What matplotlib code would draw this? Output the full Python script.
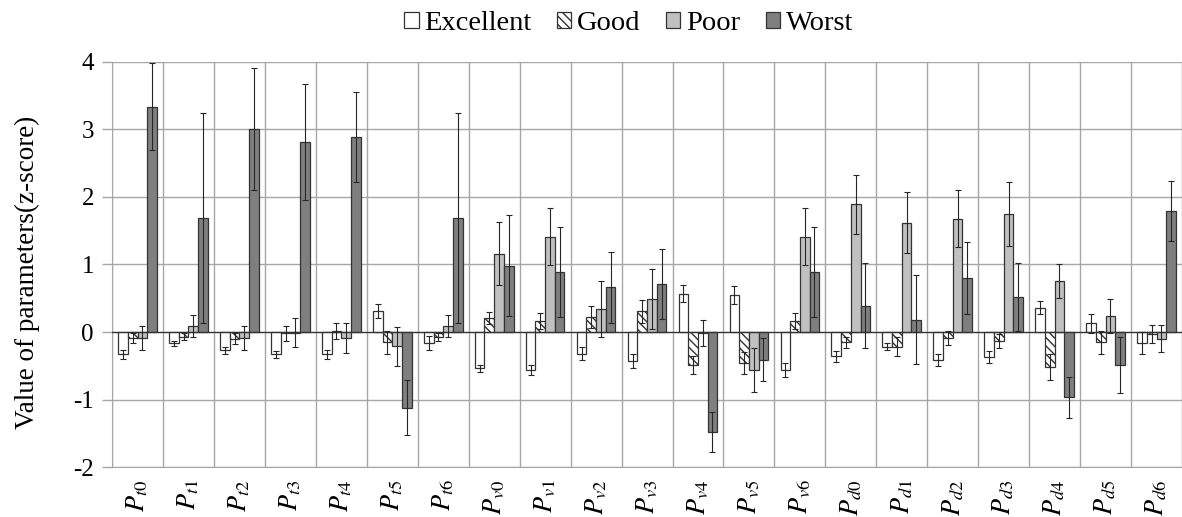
import numpy as np
import matplotlib
matplotlib.use("Agg")
import matplotlib.pyplot as plt

plt.rcParams['font.family'] = ['Liberation Serif', 'DejaVu Serif']
plt.rcParams['mathtext.fontset'] = 'stix'
plt.rcParams['hatch.linewidth'] = 1.0

# parametres (groupes t, v, d)
labels = ['t0', 't1', 't2', 't3', 't4', 't5', 't6',
          'v0', 'v1', 'v2', 'v3', 'v4', 'v5', 'v6',
          'd0', 'd1', 'd2', 'd3', 'd4', 'd5', 'd6']
yticks = [-2, -1, 0, 1, 2, 3, 4]

excellent = [-0.33, -0.17, -0.27, -0.33, -0.33, 0.31, -0.16, -0.54, -0.56, -0.32, -0.43,
             0.57, 0.55, -0.56, -0.36, -0.22, -0.41, -0.37, 0.36, 0.13, -0.16]
excellent_err = [0.07, 0.04, 0.05, 0.05, 0.07, 0.11, 0.10, 0.05, 0.07, 0.10, 0.11,
                 0.12, 0.13, 0.10, 0.08, 0.05, 0.09, 0.09, 0.10, 0.14, 0.16]

good = [-0.09, -0.07, -0.10, -0.02, 0.01, -0.15, -0.07, 0.21, 0.16, 0.22, 0.31,
        -0.49, -0.46, 0.16, -0.15, -0.22, -0.09, -0.13, -0.52, -0.15, -0.03]
good_err = [0.08, 0.05, 0.08, 0.11, 0.12, 0.17, 0.06, 0.09, 0.12, 0.16, 0.17,
            0.13, 0.16, 0.12, 0.08, 0.14, 0.10, 0.10, 0.19, 0.17, 0.14]

poor = [-0.09, 0.09, -0.09, -0.01, -0.09, -0.21, 0.09, 1.16, 1.41, 0.34, 0.49,
        -0.01, -0.56, 1.41, 1.89, 1.62, 1.68, 1.75, 0.76, 0.24, -0.10]
poor_err = [0.18, 0.16, 0.18, 0.21, 0.22, 0.29, 0.16, 0.47, 0.42, 0.42, 0.45,
            0.19, 0.33, 0.42, 0.44, 0.45, 0.42, 0.47, 0.25, 0.25, 0.20]

worst = [3.34, 1.69, 3.01, 2.81, 2.89, -1.12, 1.69, 0.98, 0.89, 0.66, 0.71,
         -1.48, -0.41, 0.89, 0.39, 0.18, 0.80, 0.52, -0.97, -0.49, 1.79]
worst_err = [0.64, 1.55, 0.90, 0.86, 0.67, 0.41, 1.55, 0.75, 0.67, 0.53, 0.52,
             0.30, 0.32, 0.67, 0.63, 0.66, 0.54, 0.50, 0.31, 0.42, 0.44]

series = [
    ('Excellent', excellent, excellent_err, 'white', None),
    ('Good', good, good_err, 'white', '\\\\\\\\'),
    ('Poor', poor, poor_err, '#c0c0c0', None),
    ('Worst', worst, worst_err, '#7f7f7f', None),
]

fig = plt.figure(figsize=(11.82, 5.17), dpi=100)
ax = fig.add_axes([0.0948, 0.0967, 0.9052, 0.7834])

x = np.arange(len(labels))
w = 0.19
for i, (name, vals, err, col, hatch) in enumerate(series):
    pos = x + (i - 1.5) * w
    ax.bar(pos, vals, w, color=col, edgecolor='#333333', linewidth=0.9,
           hatch=hatch, label=name, zorder=3)
    ax.errorbar(pos, vals, yerr=err, fmt='none', ecolor='#262626',
                elinewidth=0.8, capsize=2, capthick=0.8, zorder=4)

ax.set_xlim(-0.5, len(labels) - 0.5)
ax.set_ylim(-2, 4)
ax.set_yticks(yticks)
ax.set_yticklabels([str(v) for v in yticks], fontsize=18)

# grille : lignes horizontales aux entiers, verticales entre les groupes
ax.set_xticks(x)
ax.set_xticklabels([r'$P_{\mathit{%s}}$' % l for l in labels], rotation=90, fontsize=19)
ax.set_xticks(np.arange(-0.5, len(labels)), minor=True)
ax.tick_params(axis='x', which='both', length=0, pad=9)
ax.tick_params(axis='y', length=7, color='#a6a6a6', width=1, pad=6)
ax.grid(True, axis='y', which='major', color='#a6a6a6', linewidth=1, zorder=0)
ax.grid(True, axis='x', which='minor', color='#a6a6a6', linewidth=1, zorder=0)
for s in ['top', 'right']:
    ax.spines[s].set_visible(False)
for s in ['left', 'bottom']:
    ax.spines[s].set_color('#a6a6a6')
ax.axhline(0, color='#333333', linewidth=0.9, zorder=3)

ax.set_ylabel('Value of parameters(z-score)', fontsize=19.5)
ax.yaxis.set_label_coords(-0.067, 0.48)

fig.legend(loc='center', bbox_to_anchor=(0.532, 0.955), ncol=4, frameon=False,
           fontsize=20.5, handlelength=0.5, handleheight=0.5, handletextpad=0.2,
           columnspacing=0.9)

fig.savefig('out.png', dpi=100)
